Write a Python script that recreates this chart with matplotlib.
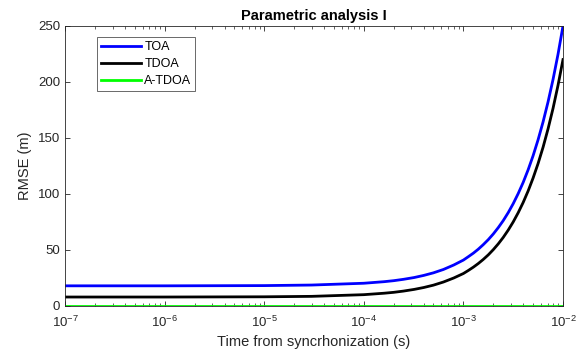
import matplotlib.pyplot as plt
from matplotlib.ticker import LogLocator, NullFormatter

plt.rcParams['font.family'] = ['Liberation Sans', 'DejaVu Sans']
plt.rcParams['mathtext.fontset'] = 'custom'
plt.rcParams['mathtext.rm'] = 'Liberation Sans'

# time from synchronization (s)
t = [1e-7, 1e-6, 1e-5, 3e-5, 1e-4, 1.6e-4, 2e-4, 2.5e-4, 3.2e-4, 4e-4, 5e-4,
     6.3e-4, 8e-4, 1e-3, 1.12e-3, 1.26e-3, 1.41e-3, 1.58e-3, 1.78e-3, 2e-3,
     2.24e-3, 2.51e-3, 2.82e-3, 3.16e-3, 3.55e-3, 3.98e-3, 4.47e-3, 5.01e-3,
     5.62e-3, 6.31e-3, 7.08e-3, 7.94e-3, 8.91e-3, 1e-2]

# RMSE (m) per method
rmse_toa = [18, 18, 18.2, 18.7, 20.3, 21.7, 22.6, 23.8, 25.4, 27.3, 29.6,
            32.6, 36.6, 41, 44, 47.2, 50.7, 54.7, 59.3, 64.4,
            70, 76.2, 83.4, 91.3, 100.4, 110.3, 121.7, 134.2,
            148.4, 164.4, 182.3, 202.2, 224.7, 250]
rmse_tdoa = [8, 8, 8.2, 8.6, 10.1, 11.4, 12.2, 13.3, 14.8, 16.5, 18.6,
             21.4, 25, 29, 31.7, 34.7, 37.9, 41.5, 45.7, 50.4,
             55.5, 61.2, 67.8, 75, 83.3, 92.4, 102.8, 114.3,
             127.2, 141.8, 158.2, 176.4, 197, 220]
rmse_atdoa = [0.4] * len(t)

xticks = [1e-7, 1e-6, 1e-5, 1e-4, 1e-3, 1e-2]
xticklabels = ['$10^{-7}$', '$10^{-6}$', '$10^{-5}$', '$10^{-4}$', '$10^{-3}$', '$10^{-2}$']
yticks = [0, 50, 100, 150, 200, 250]

fig = plt.figure(figsize=(5.83, 3.57), dpi=100)
ax = fig.add_axes([0.1115, 0.1429, 0.8542, 0.7843])

ax.plot(t, rmse_toa, color='#0000ff', lw=2, label='TOA')
ax.plot(t, rmse_tdoa, color='black', lw=2, label='TDOA')
ax.plot(t, rmse_atdoa, color='#00ff00', lw=2, label='A-TDOA')

ax.set_xscale('log')
ax.set_xlim(1e-7, 1e-2)
ax.set_ylim(0, 250)
ax.set_xticks(xticks)
ax.set_xticklabels(xticklabels)
ax.xaxis.set_minor_locator(LogLocator(base=10, subs=range(2, 10), numticks=20))
ax.xaxis.set_minor_formatter(NullFormatter())
ax.set_yticks(yticks)

gray = '#262626'
for s in ax.spines.values():
    s.set_color(gray)
    s.set_linewidth(0.6)
ax.tick_params(which='both', direction='in', top=True, right=True,
               colors=gray, labelcolor=gray, labelsize=9.5)
ax.tick_params(which='major', length=3.5, width=0.6)
ax.tick_params(which='minor', length=2, width=0.5)
ax.tick_params(axis='x', which='major', pad=6)

ax.set_xlabel('Time from syncrhonization (s)', fontsize=10.5, color=gray, labelpad=4)
ax.set_ylabel('RMSE (m)', fontsize=10.5, color=gray, labelpad=4)
ax.set_title('Parametric analysis I', fontsize=10.5, fontweight='bold', pad=4)

leg = ax.legend(loc='upper left', bbox_to_anchor=(0.064, 0.96), fontsize=9,
                frameon=True, fancybox=False, edgecolor=gray, handlelength=3.2,
                handletextpad=0.3, borderpad=0.3, labelspacing=0.4,
                borderaxespad=0)
leg.get_frame().set_linewidth(0.6)

fig.savefig('out.png', dpi=100)
